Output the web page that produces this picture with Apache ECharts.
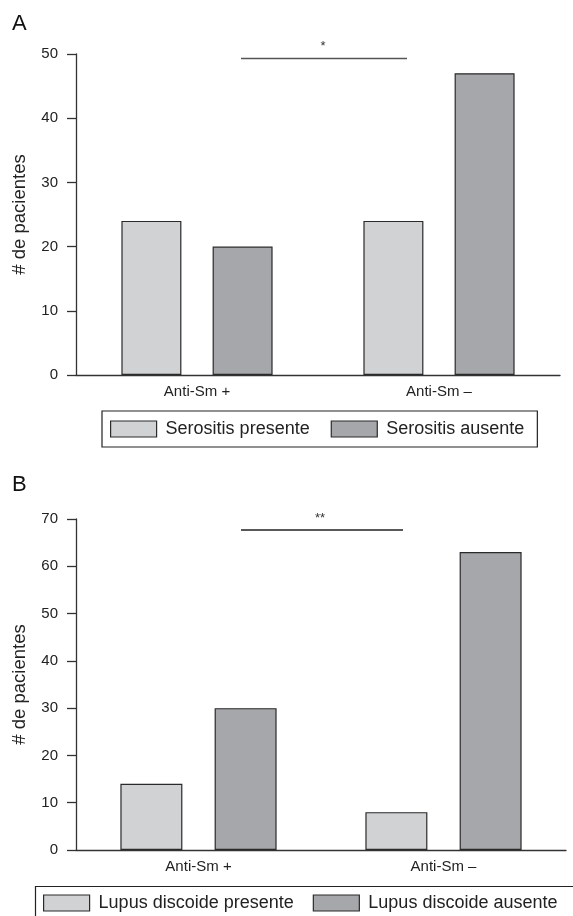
<!DOCTYPE html>
<html>
<head>
<meta charset="utf-8">
<script src="https://cdn.jsdelivr.net/npm/echarts@6/dist/echarts.min.js"></script>
<style>
html,body{margin:0;padding:0;background:#fff;}
#c{width:573px;height:916px;}
</style>
</head>
<body>
<div id="c"></div>
<script>
// ---- data ----
var categories = ['Anti-Sm +', 'Anti-Sm \u2013'];
var serositisPresente = [24, 24];
var serositisAusente = [20, 47];
var lupusPresente = [14, 8];
var lupusAusente = [30, 63];
var yTicksA = [0, 10, 20, 30, 40, 50];
var yTicksB = [0, 10, 20, 30, 40, 50, 60, 70];
var seriesNamesA = ['Serositis presente', 'Serositis ausente'];
var seriesNamesB = ['Lupus discoide presente', 'Lupus discoide ausente'];
var sigA = {label: '*', value: 49.3};
var sigB = {label: '**', value: 67.7};

var FONT = '"Liberation Sans", Arial, Helvetica, sans-serif';
var LIGHT = '#d1d2d4', DARK = '#a6a7aa', EDGE = '#2a2a2a', AX = '#333';

var chart = echarts.init(document.getElementById('c'), null, {renderer: 'canvas'});

function yAxis(gi, ticks) {
  return {
    type: 'value', gridIndex: gi, min: ticks[0], max: ticks[ticks.length - 1], interval: ticks[1] - ticks[0],
    name: '# de pacientes', nameLocation: 'middle', nameRotate: 90, nameGap: 47,
    nameTextStyle: {fontFamily: FONT, fontSize: 18.5, color: '#222'},
    axisLine: {show: true, lineStyle: {color: AX, width: 1.3}},
    axisTick: {show: true, length: 9, lineStyle: {color: AX, width: 1.3}},
    axisLabel: {fontFamily: FONT, fontSize: 15, color: '#222', margin: 18},
    splitLine: {show: false}
  };
}
function xAxis(gi) {
  return {
    type: 'category', gridIndex: gi, data: categories,
    axisLine: {show: true, lineStyle: {color: AX, width: 1.3}},
    axisTick: {show: false},
    axisLabel: {fontFamily: FONT, fontSize: 15, color: '#222', margin: 9}
  };
}
function bar(name, data, gi, color, w) {
  return {
    type: 'bar', name: name, data: data, xAxisIndex: gi, yAxisIndex: gi,
    barWidth: w, barGap: '52%',
    itemStyle: {color: color, borderColor: EDGE, borderWidth: 1.2},
    emphasis: {disabled: true}, animation: false
  };
}
function legend(names, left, top, padding, gap, width, bw) {
  return {
    data: names, left: left, top: top, orient: 'horizontal', width: width,
    itemWidth: 46, itemHeight: 16, itemGap: gap, icon: 'rect',
    borderColor: '#222', borderWidth: bw, padding: padding,
    itemStyle: {borderColor: EDGE, borderWidth: 1.2},
    textStyle: {fontFamily: FONT, fontSize: 18, color: '#222', padding: [0, 0, 0, 4]},
    selectedMode: false
  };
}

chart.setOption({
  animation: false,
  grid: [
    {left: 76, top: 54, width: 484, height: 321, outerBoundsMode: 'none', containLabel: false},
    {left: 76, top: 519, width: 490, height: 331, outerBoundsMode: 'none', containLabel: false}
  ],
  xAxis: [xAxis(0), xAxis(1)],
  yAxis: [yAxis(0, yTicksA), yAxis(1, yTicksB)],
  legend: [
    legend(seriesNamesA, 102, 411, [9, 13, 9, 8], 21, 480, 1.2),
    legend(seriesNamesB, 35, 886, [8, 20, 12, 8], 19, 700, 0)
  ],
  series: [
    bar(seriesNamesA[0], serositisPresente, 0, LIGHT, 60),
    bar(seriesNamesA[1], serositisAusente, 0, DARK, 60),
    bar(seriesNamesB[0], lupusPresente, 1, LIGHT, 62),
    bar(seriesNamesB[1], lupusAusente, 1, DARK, 62)
  ]
});

// panel letters, legend-B frame (runs past the page edge) and significance brackets
var yA = chart.convertToPixel({yAxisIndex: 0}, sigA.value);
var yB = chart.convertToPixel({yAxisIndex: 1}, sigB.value);
chart.setOption({
  graphic: [
    {type: 'text', left: 12, top: 13, style: {text: 'A', fontFamily: FONT, fontSize: 22, fill: '#111'}},
    {type: 'text', left: 12, top: 474, style: {text: 'B', fontFamily: FONT, fontSize: 22, fill: '#111'}},
    {type: 'rect', shape: {x: 35.5, y: 886.5, width: 620, height: 60}, style: {fill: null, stroke: '#222', lineWidth: 1.2}, silent: true},
    {type: 'line', shape: {x1: 241, y1: yA, x2: 407, y2: yA}, style: {stroke: '#555', lineWidth: 1.5}},
    {type: 'text', x: 323, y: yA - 6, style: {text: sigA.label, fontFamily: FONT, fontSize: 13, fill: '#333', align: 'center', verticalAlign: 'bottom'}},
    {type: 'line', shape: {x1: 241, y1: yB, x2: 403, y2: yB}, style: {stroke: '#222', lineWidth: 1.5}},
    {type: 'text', x: 320, y: yB - 5, style: {text: sigB.label, fontFamily: FONT, fontSize: 13, fill: '#333', align: 'center', verticalAlign: 'bottom'}}
  ]
});
</script>
</body>
</html>
